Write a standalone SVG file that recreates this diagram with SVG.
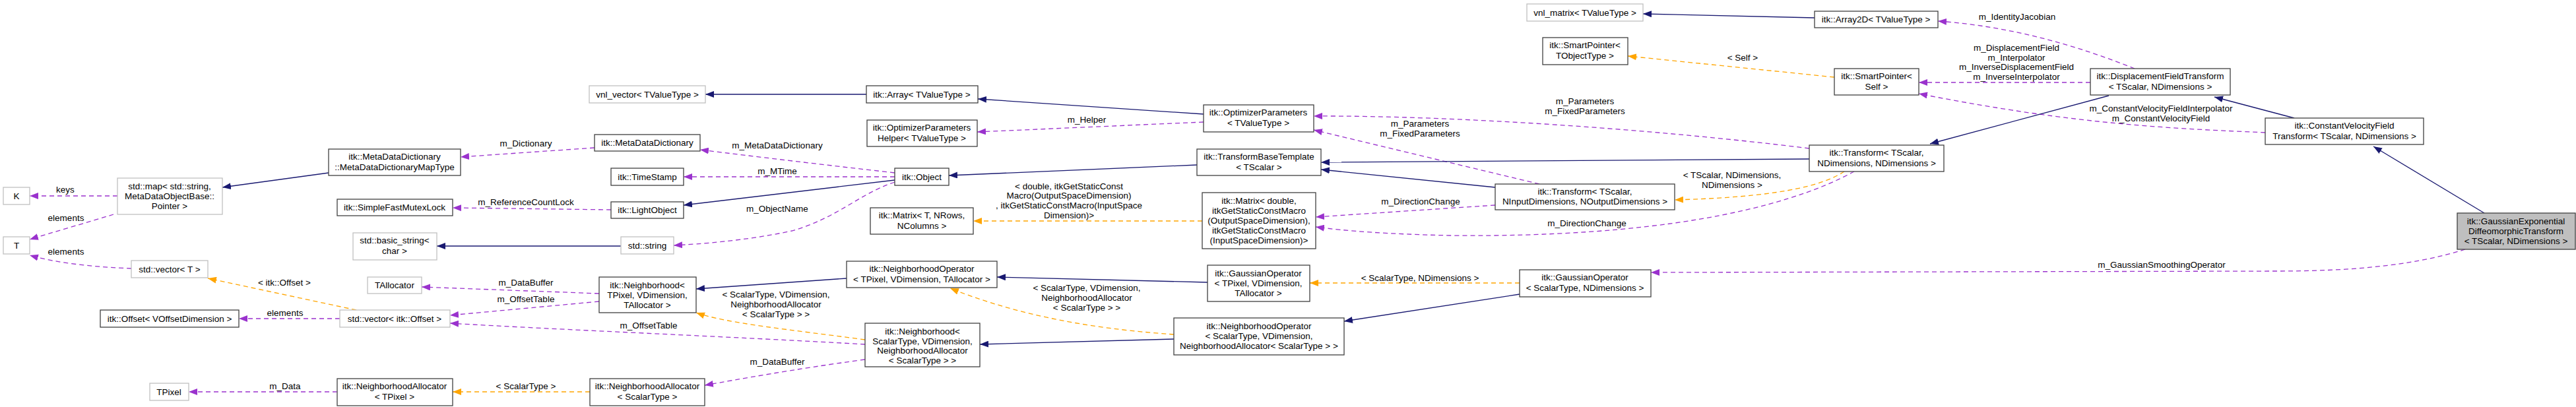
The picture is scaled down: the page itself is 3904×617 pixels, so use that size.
<svg xmlns="http://www.w3.org/2000/svg" width="3904" height="617" viewBox="0 0 3904 617">
<style>
text{font-family:"Liberation Sans",Arial,sans-serif;font-size:13.5px;fill:#000;text-anchor:middle}
.b{fill:#fff;stroke:#404040;stroke-width:1.3}
.g{fill:#fff;stroke:#c0c0c0;stroke-width:1.3}
.m{fill:#bfbfbf;stroke:#404040;stroke-width:1.3}
.inh{fill:none;stroke:#191970;stroke-width:1.3;marker-end:url(#an)}
.use{fill:none;stroke:#9a32cd;stroke-width:1.3;stroke-dasharray:7,5;marker-end:url(#ap)}
.tm{fill:none;stroke:#ffa500;stroke-width:1.3;stroke-dasharray:7,5;marker-end:url(#ao)}
</style>
<defs>
<marker id="an" markerUnits="userSpaceOnUse" markerWidth="14" markerHeight="10" refX="13" refY="5" orient="auto"><path d="M0,0 L13,5 L0,10 z" fill="#191970"/></marker>
<marker id="ap" markerUnits="userSpaceOnUse" markerWidth="14" markerHeight="10" refX="13" refY="5" orient="auto"><path d="M0,0 L13,5 L0,10 z" fill="#9a32cd"/></marker>
<marker id="ao" markerUnits="userSpaceOnUse" markerWidth="14" markerHeight="10" refX="13" refY="5" orient="auto"><path d="M0,0 L13,5 L0,10 z" fill="#ffa500"/></marker>
</defs>
<rect width="3904" height="617" fill="#fff"/>
<g id="connectors">
<path class="use" d="M178,297 L45,297"/><text x="99" y="292">keys</text>
<path class="use" d="M172,325 C130,338 80,352 45,363"/><text x="100" y="335">elements</text>
<path class="use" d="M199,407 C150,405 90,400 45,387"/><text x="100" y="386">elements</text>
<path class="inh" d="M498,262 L337,284"/>
<path class="tm" d="M540,470 L315,422"/><text x="431" y="433">&lt; itk::Offset &gt;</text>
<path class="use" d="M515,483 L362,483"/><text x="432" y="479">elements</text>
<path class="use" d="M511,594 L286,594"/><text x="432" y="590">m_Data</text>
<path class="use" d="M901,224 L698,238"/><text x="797" y="222">m_Dictionary</text>
<path class="use" d="M1356,262 C1250,250 1150,238 1061,227"/><text x="1178" y="225">m_MetaDataDictionary</text>
<path class="use" d="M1356,268 L1036,268"/><text x="1178" y="264">m_MTime</text>
<path class="inh" d="M1356,273 L1036,311"/>
<path class="use" d="M926,318 L686,315"/><text x="797" y="311">m_ReferenceCountLock</text>
<path class="inh" d="M941,373 L662,373"/>
<path class="use" d="M1356,276 C1300,295 1270,330 1200,350 C1130,365 1060,370 1021,372"/><text x="1178" y="321">m_ObjectName</text>
<path class="use" d="M908,445 L639,435"/><text x="797" y="433">m_DataBuffer</text>
<path class="use" d="M908,457 L682,478"/><text x="797" y="458">m_OffsetTable</text>
<path class="use" d="M1311,522 C1100,510 850,500 682,490"/><text x="983" y="498">m_OffsetTable</text>
<path class="inh" d="M1283,422 L1055,438"/>
<path class="tm" d="M1311,515 C1200,500 1100,490 1055,474"/>
<text x="1176" y="451">&lt; ScalarType, VDimension,</text><text x="1176" y="466">NeighborhoodAllocator</text><text x="1176" y="481">&lt; ScalarType &gt; &gt;</text>
<path class="use" d="M1311,545 C1200,560 1120,575 1068,584"/><text x="1178" y="553">m_DataBuffer</text>
<path class="tm" d="M894,594 L686,594"/><text x="797" y="590">&lt; ScalarType &gt;</text>
<path class="inh" d="M1824,173 L1482,150"/>
<path class="inh" d="M1313,143 L1069,143"/>
<path class="use" d="M1824,185 L1481,200"/><text x="1647" y="186">m_Helper</text>
<path class="inh" d="M1814,250 L1438,266"/>
<path class="tm" d="M1822,335 L1475,335"/>
<text x="1620" y="287">&lt; double, itkGetStaticConst</text><text x="1620" y="301">Macro(OutputSpaceDimension)</text><text x="1620" y="316">, itkGetStaticConstMacro(InputSpace</text><text x="1620" y="331">Dimension)&gt;</text>
<path class="inh" d="M1830,428 L1511,420"/>
<path class="tm" d="M1779,507 C1680,500 1560,485 1440,437"/>
<text x="1647" y="441">&lt; ScalarType, VDimension,</text><text x="1647" y="456">NeighborhoodAllocator</text><text x="1647" y="471">&lt; ScalarType &gt; &gt;</text>
<path class="inh" d="M1779,514 L1485,522"/>
<path class="use" d="M2742,225 C2500,195 2200,175 1991,176"/><text x="2402" y="158">m_Parameters</text><text x="2402" y="173">m_FixedParameters</text>
<path class="use" d="M2333,279 L1991,197"/><text x="2152" y="192">m_Parameters</text><text x="2152" y="207">m_FixedParameters</text>
<path class="inh" d="M2742,241 L2002,246"/>
<path class="inh" d="M2266,284 L2002,257"/>
<path class="use" d="M2266,311 L1994,329"/><text x="2153" y="310">m_DirectionChange</text>
<path class="use" d="M2810,260 C2700,320 2500,360 2200,357 C2100,355 2040,350 1994,344"/><text x="2405" y="343">m_DirectionChange</text>
<path class="tm" d="M2795,260 C2750,290 2650,300 2538,303"/><text x="2625" y="270">&lt; TScalar, NDimensions,</text><text x="2625" y="285">NDimensions &gt;</text>
<path class="tm" d="M2303,429 L1985,429"/><text x="2152" y="426">&lt; ScalarType, NDimensions &gt;</text>
<path class="inh" d="M2303,446 L2037,487"/>
<path class="use" d="M3736,378 C3650,405 3550,411 3450,411 L2502,413"/><text x="3276" y="406">m_GaussianSmoothingOperator</text>
<path class="inh" d="M2750,27 L2490,21"/>
<path class="use" d="M3235,104 C3150,70 3050,40 2937,32"/><text x="3057" y="30">m_IdentityJacobian</text>
<path class="use" d="M3168,125 L2908,125"/>
<text x="3056" y="77">m_DisplacementField</text><text x="3056" y="92">m_Interpolator</text><text x="3056" y="106">m_InverseDisplacementField</text><text x="3056" y="121">m_InverseInterpolator</text>
<path class="use" d="M3433,201 C3300,195 3150,190 2908,142"/><text x="3275" y="169">m_ConstantVelocityFieldInterpolator</text><text x="3275" y="184">m_ConstantVelocityField</text>
<path class="tm" d="M2780,117 L2467,85"/><text x="2641" y="92">&lt; Self &gt;</text>
<path class="inh" d="M3196,145 L2925,218"/>
<path class="inh" d="M3477,179 L3356,147"/>
<path class="inh" d="M3765,323 L3597,222"/>
</g>
<g id="n_K"><rect class="g" x="5" y="284" width="40" height="26"/><text x="25" y="302">K</text></g>
<g id="n_T"><rect class="g" x="5" y="359" width="40" height="26"/><text x="25" y="377">T</text></g>
<g id="n_map"><rect class="g" x="178" y="270" width="159" height="55"/><text x="257" y="287">std::map&lt; std::string,</text><text x="257" y="302">MetaDataObjectBase::</text><text x="257" y="317">Pointer &gt;</text></g>
<g id="n_vecT"><rect class="g" x="199" y="395" width="116" height="26"/><text x="257" y="413">std::vector&lt; T &gt;</text></g>
<g id="n_offset"><rect class="b" x="152" y="470" width="210" height="26"/><text x="257" y="488">itk::Offset&lt; VOffsetDimension &gt;</text></g>
<g id="n_vecOff"><rect class="g" x="515" y="470" width="167" height="26"/><text x="598" y="488">std::vector&lt; itk::Offset &gt;</text></g>
<g id="n_tpixel"><rect class="g" x="227" y="581" width="59" height="26"/><text x="256" y="599">TPixel</text></g>
<g id="n_maptype"><rect class="b" x="498" y="226" width="200" height="40"/><text x="598" y="242">itk::MetaDataDictionary</text><text x="598" y="258">::MetaDataDictionaryMapType</text></g>
<g id="n_mutex"><rect class="b" x="511" y="302" width="175" height="25"/><text x="598" y="319">itk::SimpleFastMutexLock</text></g>
<g id="n_bstr"><rect class="g" x="535" y="353" width="127" height="41"/><text x="598" y="369">std::basic_string&lt;</text><text x="598" y="385">char &gt;</text></g>
<g id="n_talloc"><rect class="g" x="557" y="420" width="82" height="25"/><text x="598" y="437">TAllocator</text></g>
<g id="n_naTP"><rect class="b" x="511" y="574" width="175" height="41"/><text x="598" y="590">itk::NeighborhoodAllocator</text><text x="598" y="606">&lt; TPixel &gt;</text></g>
<g id="n_vnlv"><rect class="g" x="893" y="130" width="176" height="26"/><text x="981" y="148">vnl_vector&lt; TValueType &gt;</text></g>
<g id="n_mdd"><rect class="b" x="901" y="204" width="160" height="25"/><text x="981" y="221">itk::MetaDataDictionary</text></g>
<g id="n_ts"><rect class="b" x="926" y="255" width="110" height="26"/><text x="981" y="273">itk::TimeStamp</text></g>
<g id="n_lo"><rect class="b" x="926" y="306" width="110" height="25"/><text x="981" y="323">itk::LightObject</text></g>
<g id="n_str"><rect class="g" x="941" y="359" width="80" height="26"/><text x="981" y="377">std::string</text></g>
<g id="n_nbTP"><rect class="b" x="908" y="420" width="147" height="54"/><text x="981" y="437">itk::Neighborhood&lt;</text><text x="981" y="452">TPixel, VDimension,</text><text x="981" y="467">TAllocator &gt;</text></g>
<g id="n_naST"><rect class="b" x="894" y="574" width="174" height="41"/><text x="981" y="590">itk::NeighborhoodAllocator</text><text x="981" y="606">&lt; ScalarType &gt;</text></g>
<g id="n_array"><rect class="b" x="1313" y="130" width="169" height="26"/><text x="1397" y="148">itk::Array&lt; TValueType &gt;</text></g>
<g id="n_oph"><rect class="b" x="1314" y="182" width="167" height="40"/><text x="1397" y="198">itk::OptimizerParameters</text><text x="1397" y="214">Helper&lt; TValueType &gt;</text></g>
<g id="n_obj"><rect class="b" x="1356" y="255" width="82" height="26"/><text x="1397" y="273">itk::Object</text></g>
<g id="n_matT"><rect class="b" x="1319" y="315" width="156" height="40"/><text x="1397" y="331">itk::Matrix&lt; T, NRows,</text><text x="1397" y="347">NColumns &gt;</text></g>
<g id="n_nopTP"><rect class="b" x="1283" y="396" width="228" height="40"/><text x="1397" y="412">itk::NeighborhoodOperator</text><text x="1397" y="428">&lt; TPixel, VDimension, TAllocator &gt;</text></g>
<g id="n_nbST"><rect class="b" x="1311" y="490" width="174" height="66"/><text x="1398" y="507">itk::Neighborhood&lt;</text><text x="1398" y="522">ScalarType, VDimension,</text><text x="1398" y="536">NeighborhoodAllocator</text><text x="1398" y="551">&lt; ScalarType &gt; &gt;</text></g>
<g id="n_op"><rect class="b" x="1824" y="159" width="167" height="41"/><text x="1907" y="175">itk::OptimizerParameters</text><text x="1907" y="191">&lt; TValueType &gt;</text></g>
<g id="n_tbt"><rect class="b" x="1814" y="226" width="188" height="40"/><text x="1908" y="242">itk::TransformBaseTemplate</text><text x="1908" y="258">&lt; TScalar &gt;</text></g>
<g id="n_matD"><rect class="b" x="1822" y="292" width="172" height="85"/><text x="1908" y="309">itk::Matrix&lt; double,</text><text x="1908" y="324">itkGetStaticConstMacro</text><text x="1908" y="339">(OutputSpaceDimension),</text><text x="1908" y="354">itkGetStaticConstMacro</text><text x="1908" y="369">(InputSpaceDimension)&gt;</text></g>
<g id="n_gopTP"><rect class="b" x="1830" y="402" width="155" height="55"/><text x="1907" y="419">itk::GaussianOperator</text><text x="1907" y="434">&lt; TPixel, VDimension,</text><text x="1907" y="449">TAllocator &gt;</text></g>
<g id="n_nopST"><rect class="b" x="1779" y="482" width="258" height="56"/><text x="1908" y="499">itk::NeighborhoodOperator</text><text x="1908" y="514">&lt; ScalarType, VDimension,</text><text x="1908" y="529">NeighborhoodAllocator&lt; ScalarType &gt; &gt;</text></g>
<g id="n_vnlm"><rect class="g" x="2314" y="6" width="176" height="26"/><text x="2402" y="24">vnl_matrix&lt; TValueType &gt;</text></g>
<g id="n_spT"><rect class="b" x="2338" y="57" width="129" height="41"/><text x="2402" y="73">itk::SmartPointer&lt;</text><text x="2402" y="89">TObjectType &gt;</text></g>
<g id="n_trIO"><rect class="b" x="2266" y="279" width="272" height="39"/><text x="2402" y="295">itk::Transform&lt; TScalar,</text><text x="2402" y="310">NInputDimensions, NOutputDimensions &gt;</text></g>
<g id="n_gopST"><rect class="b" x="2303" y="409" width="199" height="41"/><text x="2402" y="425">itk::GaussianOperator</text><text x="2402" y="441">&lt; ScalarType, NDimensions &gt;</text></g>
<g id="n_a2d"><rect class="b" x="2750" y="17" width="187" height="25"/><text x="2843" y="34">itk::Array2D&lt; TValueType &gt;</text></g>
<g id="n_spS"><rect class="b" x="2780" y="104" width="128" height="40"/><text x="2844" y="120">itk::SmartPointer&lt;</text><text x="2844" y="136">Self &gt;</text></g>
<g id="n_trNN"><rect class="b" x="2742" y="220" width="204" height="40"/><text x="2844" y="236">itk::Transform&lt; TScalar,</text><text x="2844" y="252">NDimensions, NDimensions &gt;</text></g>
<g id="n_dft"><rect class="b" x="3168" y="104" width="212" height="40"/><text x="3274" y="120">itk::DisplacementFieldTransform</text><text x="3274" y="136">&lt; TScalar, NDimensions &gt;</text></g>
<g id="n_cvf"><rect class="b" x="3433" y="179" width="240" height="40"/><text x="3553" y="195">itk::ConstantVelocityField</text><text x="3553" y="211">Transform&lt; TScalar, NDimensions &gt;</text></g>
<g id="n_main"><rect class="m" x="3724" y="323" width="179" height="55"/><text x="3813" y="340">itk::GaussianExponential</text><text x="3813" y="355">DiffeomorphicTransform</text><text x="3813" y="370">&lt; TScalar, NDimensions &gt;</text></g>
</svg>
